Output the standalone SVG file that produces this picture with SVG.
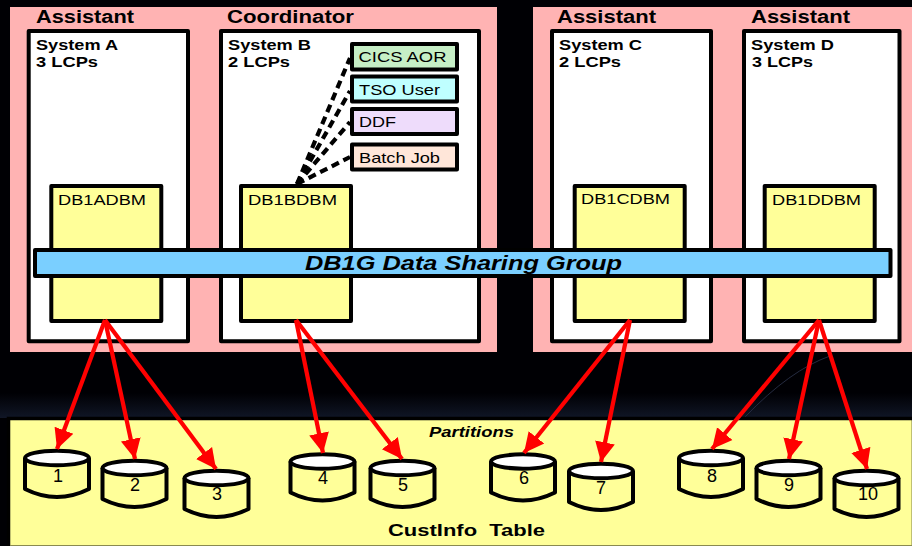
<svg xmlns="http://www.w3.org/2000/svg" width="912" height="546" viewBox="0 0 912 546">
<style>
text{font-family:"Liberation Sans",Arial,sans-serif;fill:#000}
.panel{fill:#ffb3b3}
.box{stroke:#000;stroke-width:4;stroke-linejoin:round}
.sys{fill:#fff}
.dbm{fill:#ffff99}
.role{font-size:18px;font-weight:bold}
.sysl{font-size:15px;font-weight:bold}
.lab{font-size:15px}
.num{font-size:18px;text-anchor:middle}
.red{stroke:#f00;stroke-width:4.200;fill:none;marker-end:url(#ah)}
.dash{stroke:#000;stroke-width:4.200;fill:none;stroke-dasharray:8 5}
</style>
<defs>
<linearGradient id="bg" x1="0" y1="0" x2="0" y2="1"><stop offset="0" stop-color="#000004"/><stop offset="1" stop-color="#101626"/></linearGradient>
<marker id="ah" markerUnits="userSpaceOnUse" markerWidth="24" markerHeight="24" viewBox="0 0 24 24" refX="20" refY="12" orient="auto"><path d="M0 2L20 12L0 22Z" fill="#f00"/></marker>
<g id="cyl">
<path d="M2 9V40Q34 56 66 40V9" fill="#ffff99" stroke="#000" stroke-width="4" stroke-linejoin="round"/>
<ellipse cx="34" cy="9" rx="32" ry="7.200" fill="#fff" stroke="#000" stroke-width="4"/>
</g>
</defs>
<rect width="912" height="546" fill="#000004"/>
<rect y="393" width="912" height="25" fill="url(#bg)"/>
<path d="M745 417Q790 370 830 356" fill="none" stroke="#252b40"/>
<g id="panel-left"><rect class="panel" x="10" y="7" width="487" height="345"/><text class="role" x="36" y="23" textLength="98" lengthAdjust="spacingAndGlyphs">Assistant</text><text class="role" x="227" y="23" textLength="127" lengthAdjust="spacingAndGlyphs">Coordinator</text></g>
<g id="panel-right"><rect class="panel" x="533" y="7" width="379" height="345"/><text class="role" x="557" y="23" textLength="99" lengthAdjust="spacingAndGlyphs">Assistant</text><text class="role" x="751" y="23" textLength="99" lengthAdjust="spacingAndGlyphs">Assistant</text></g>
<g id="system-a"><rect class="box sys" x="28.700" y="31" width="159.300" height="310.300"/><text class="sysl" x="36" y="50" textLength="82" lengthAdjust="spacingAndGlyphs">System A</text><text class="sysl" x="36" y="67" textLength="62" lengthAdjust="spacingAndGlyphs">3 LCPs</text></g>
<g id="system-b"><rect class="box sys" x="221" y="31" width="258" height="310.300"/><text class="sysl" x="228" y="50" textLength="83" lengthAdjust="spacingAndGlyphs">System B</text><text class="sysl" x="228" y="67" textLength="62" lengthAdjust="spacingAndGlyphs">2 LCPs</text></g>
<g id="system-c"><rect class="box sys" x="552" y="31" width="159" height="310.300"/><text class="sysl" x="559" y="50" textLength="83" lengthAdjust="spacingAndGlyphs">System C</text><text class="sysl" x="559" y="67" textLength="62" lengthAdjust="spacingAndGlyphs">2 LCPs</text></g>
<g id="system-d"><rect class="box sys" x="744" y="31" width="155.500" height="310.300"/><text class="sysl" x="751" y="50" textLength="83" lengthAdjust="spacingAndGlyphs">System D</text><text class="sysl" x="752" y="67" textLength="61" lengthAdjust="spacingAndGlyphs">3 LCPs</text></g>
<g id="db1adbm"><rect class="box dbm" x="51.300" y="186" width="110" height="135"/><text class="lab" x="58" y="204.500" textLength="88" lengthAdjust="spacingAndGlyphs">DB1ADBM</text></g>
<g id="db1bdbm"><rect class="box dbm" x="241" y="186" width="110" height="135"/><text class="lab" x="248" y="204.500" textLength="89" lengthAdjust="spacingAndGlyphs">DB1BDBM</text></g>
<g id="db1cdbm"><rect class="box dbm" x="574.700" y="186" width="110" height="135"/><text class="lab" x="581" y="204" textLength="89" lengthAdjust="spacingAndGlyphs">DB1CDBM</text></g>
<g id="db1ddbm"><rect class="box dbm" x="764.700" y="186" width="110" height="135"/><text class="lab" x="772" y="204.500" textLength="89" lengthAdjust="spacingAndGlyphs">DB1DDBM</text></g>
<g id="cics-aor"><rect class="box" fill="#c6efc6" x="352" y="44" width="105" height="25.500"/><text class="lab" x="358.500" y="62" textLength="88" lengthAdjust="spacingAndGlyphs">CICS AOR</text></g>
<g id="tso-user"><rect class="box" fill="#bfffff" x="352" y="76.500" width="105" height="25"/><text class="lab" x="359" y="95" textLength="81" lengthAdjust="spacingAndGlyphs">TSO User</text></g>
<g id="ddf"><rect class="box" fill="#eedcfb" x="352" y="109" width="105" height="25"/><text class="lab" x="359" y="127" textLength="37" lengthAdjust="spacingAndGlyphs">DDF</text></g>
<g id="batch-job"><rect class="box" fill="#ffe6d9" x="352" y="144.500" width="105" height="25"/><text class="lab" x="359" y="163" textLength="81" lengthAdjust="spacingAndGlyphs">Batch Job</text></g>
<g id="sharing-group"><rect class="box" fill="#7acfff" x="35" y="250" width="855.500" height="26"/><text x="305" y="270" font-size="20" font-weight="bold" font-style="italic" textLength="317" lengthAdjust="spacingAndGlyphs">DB1G Data Sharing Group</text></g>
<g id="custinfo-table"><rect x="8.500" y="418.500" width="905" height="129" fill="#ffff99" stroke="#000" stroke-width="3.500"/><rect y="545" x="10" width="902" height="1" fill="#8a8a50"/><text x="429" y="437" font-size="14" font-weight="bold" font-style="italic" textLength="85" lengthAdjust="spacingAndGlyphs">Partitions</text><text x="388" y="536" font-size="17" font-weight="bold" textLength="157" lengthAdjust="spacingAndGlyphs" xml:space="preserve">CustInfo  Table</text></g>
<g id="p1"><use href="#cyl" x="23" y="449"/><text class="num" x="58" y="482">1</text></g>
<g id="p2"><use href="#cyl" x="100.500" y="459"/><text class="num" x="135" y="491">2</text></g>
<g id="p3"><use href="#cyl" x="182.500" y="469"/><text class="num" x="217" y="500">3</text></g>
<g id="p4"><use href="#cyl" x="288.500" y="452.500"/><text class="num" x="323" y="484">4</text></g>
<g id="p5"><use href="#cyl" x="368.500" y="459"/><text class="num" x="403" y="491">5</text></g>
<g id="p6"><use href="#cyl" x="489" y="452.500"/><text class="num" x="524" y="484">6</text></g>
<g id="p7"><use href="#cyl" x="567" y="462"/><text class="num" x="601" y="494">7</text></g>
<g id="p8"><use href="#cyl" x="677" y="449"/><text class="num" x="712" y="482">8</text></g>
<g id="p9"><use href="#cyl" x="754.500" y="459"/><text class="num" x="789" y="491">9</text></g>
<g id="p10"><use href="#cyl" x="832.500" y="469"/><text class="num" x="868" y="500">10</text></g>
<g id="connectors">
<path class="dash" d="M297 184L350 58"/>
<path class="dash" d="M297 184L350 91"/>
<path class="dash" d="M297 184L350 122"/>
<path class="dash" d="M297 184L350 157"/>
<path class="red" d="M105 320L57 449"/>
<path class="red" d="M105 320L135 459"/>
<path class="red" d="M105 320L216 469"/>
<path class="red" d="M296 320L323 453"/>
<path class="red" d="M296 320L402 459"/>
<path class="red" d="M630 320L524 453"/>
<path class="red" d="M630 320L601 462"/>
<path class="red" d="M819 320L712 449"/>
<path class="red" d="M819 320L789 459"/>
<path class="red" d="M819 320L867 469"/>
</g>
</svg>
